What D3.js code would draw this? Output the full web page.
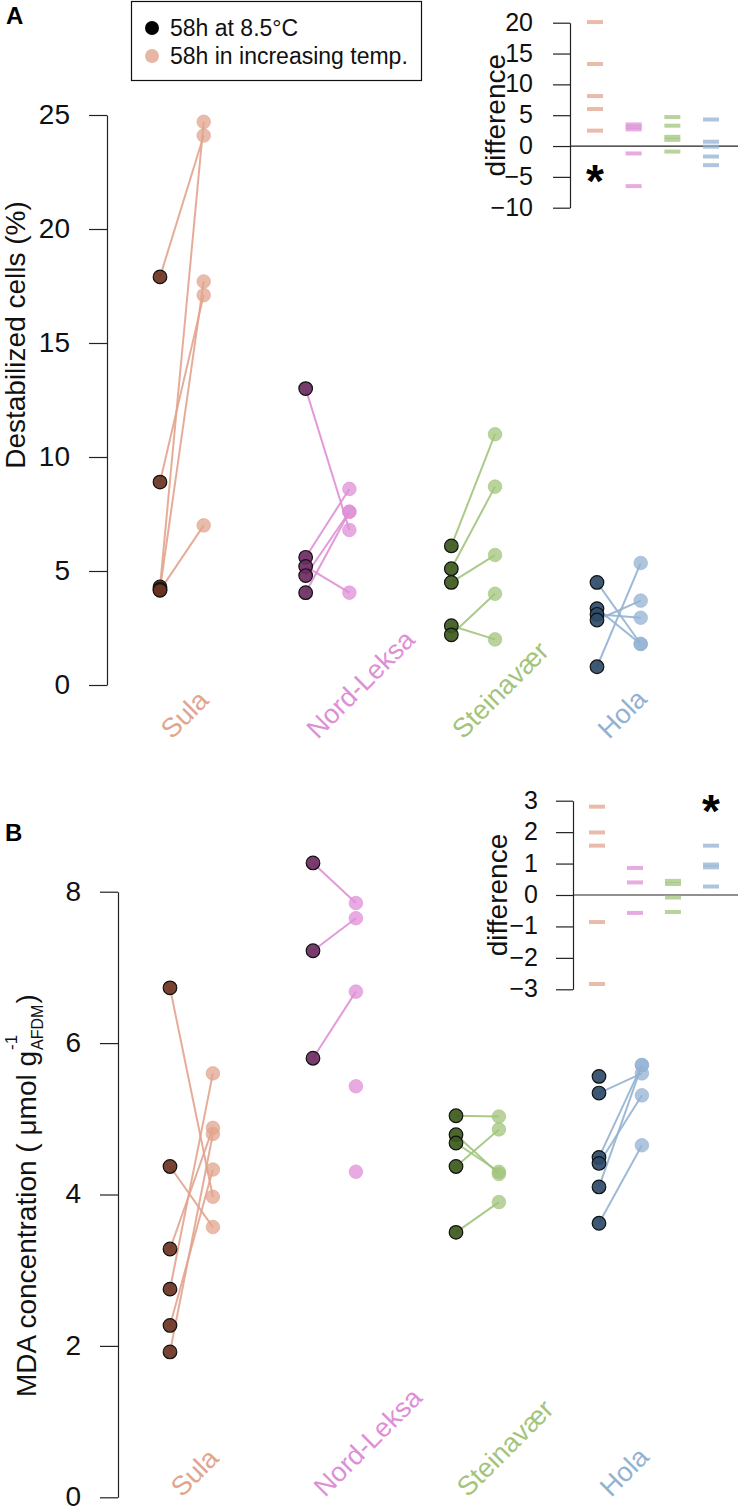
<!DOCTYPE html>
<html>
<head>
<meta charset="utf-8">
<script src="https://cdn.jsdelivr.net/npm/d3@7"></script>
<style>
	html, body { margin: 0; padding: 0; background: #fff; }
	svg text { font-family: 'Liberation Sans', Arial, sans-serif; }
</style>
</head>
<body>
<div id="chart"></div>
<script>
// sites, in plotting order
const SITES = ['Sula', 'Nord-Leksa', 'Steinavær', 'Hola'];
const LEGEND_LABELS = ['58h at 8.5°C', '58h in increasing temp.'];

// A: destabilized cells (%), paired control / warming values per site (null = no partner)
const CELLS_CONTROL = [
	[4.3, 4.2, 17.9, 8.9, 4.15],
	[13.0, 5.6, 5.2, 4.8, 4.05],
	[6.1, 5.1, 4.5, 2.6, 2.2],
	[0.8, 4.5, 3.35, 3.1, 2.85],
];
const CELLS_WARM = [
	[24.7, 17.7, 24.1, 17.1, 7.0],
	[6.8, 8.6, 4.05, 7.6, 7.6],
	[11.0, 8.7, 5.7, 2.0, 4.0],
	[5.35, 1.8, 1.8, 2.95, 3.7],
];
// A inset: difference per pair
const CELLS_DIFF = [
	[20.1, 13.3, 8.1, 6.0, 2.5],
	[3.5, 3.1, 2.7, -1.2, -6.5],
	[4.7, 3.3, 1.5, 1.0, -0.9],
	[4.3, 0.7, -0.1, -1.7, -3.1],
];

// B: MDA concentration
const MDA_CONTROL = [
	[6.73, 4.37, 3.28, 2.75, 2.27, 1.92],
	[8.38, 7.22, 5.8, null, null],
	[5.04, 4.79, 4.68, 4.37, 3.5],
	[5.56, 5.34, 4.49, 4.41, 4.1, 3.62],
];
const MDA_WARM = [
	[3.97, 3.57, 4.88, 5.6, 4.33, 4.8],
	[7.85, 7.65, 6.68, 5.43, 4.3],
	[5.03, 4.27, 4.3, 4.86, 3.9],
	[null, 5.6, 5.71, 5.31, 5.71, 4.65],
];
const MDA_DIFF = [
	[2.81, 1.99, 1.57, -0.86, -2.83],
	[0.86, 0.4, -0.57],
	[0.45, 0.35, -0.08, -0.54],
	[1.57, 0.97, 0.88, 0.27],
];

const CELLS_TICKS = [0, 5, 10, 15, 20, 25];
const MDA_TICKS = [0, 2, 4, 6, 8];
const CELLS_DIFF_TICKS = [-10, -5, 0, 5, 10, 15, 20];
const MDA_DIFF_TICKS = [-3, -2, -1, 0, 1, 2, 3];

const SIGNIFICANT_CELLS = ['Sula'];
const SIGNIFICANT_MDA = ['Hola'];

const LIGHT = ['#e2a48e', '#df8fd7', '#a2c47c', '#93b2d2'];
const DARK = ['#6b3322', '#6c2b63', '#3d5a1c', '#2e4b68'];

const svg = d3.select('#chart').append('svg')
	.attr('width', 739)
	.attr('height', 1511);

/** Helper. Draws a left axis and restyles it (d3 sets its own font size during the call). */
function leftAxis(scale, ticks, at, tickSize, tickPad, fontSize) {
	const axis = svg.append('g')
		.attr('transform', `translate(${at},0)`)
		.call(d3.axisLeft(scale)
			.tickValues(ticks)
			.tickFormat(d3.format('d'))
			.tickSize(tickSize)
			.tickPadding(tickPad)
			.tickSizeOuter(0));
	axis.attr('font-size', fontSize)
		.attr('font-family', 'Liberation Sans, Arial, sans-serif')
		.attr('color', '#222');
	axis.selectAll('text').attr('fill', '#111').attr('dy', '0.3em');
	axis.select('.domain').attr('stroke-width', 1.2);
	axis.selectAll('.tick line').attr('stroke-width', 1.2);
	return axis;
}

/** Draws one paired-dot panel with its axis, site labels and the difference inset. */
function drawPanel(p) {
	const x = d3.scaleLinear().domain([0, 3]).range(p.xRange);
	const y = d3.scaleLinear().domain(p.yDomain).range(p.yRange);

	leftAxis(y, p.ticks, p.axisX, 18, p.tickPad, 28);

	const marks = svg.append('g');
	SITES.forEach((site, i) => {
		const pairs = d3.zip(p.control[i], p.warm[i]);
		const x0 = x(i), x1 = x(i + 0.3);

		marks.append('g').selectAll('line')
			.data(pairs.filter(d => d[0] != null && d[1] != null))
			.join('line')
			.attr('x1', x0).attr('y1', d => y(d[0]))
			.attr('x2', x1).attr('y2', d => y(d[1]))
			.attr('stroke', LIGHT[i])
			.attr('stroke-width', 2)
			.attr('stroke-opacity', 0.9);

		marks.append('g').selectAll('circle')
			.data(p.warm[i].filter(v => v != null))
			.join('circle')
			.attr('cx', x1).attr('cy', d => y(d))
			.attr('r', 6.8)
			.attr('fill', LIGHT[i])
			.attr('fill-opacity', 0.75)
			.attr('stroke', LIGHT[i])
			.attr('stroke-opacity', 0.6);

		marks.append('g').selectAll('circle')
			.data(p.control[i].filter(v => v != null))
			.join('circle')
			.attr('cx', x0).attr('cy', d => y(d))
			.attr('r', 6.8)
			.attr('fill', DARK[i])
			.attr('fill-opacity', 0.92)
			.attr('stroke', '#111')
			.attr('stroke-width', 1.2);

		svg.append('text')
			.attr('transform', `translate(${x0 + 12},${p.labelY}) rotate(-45)`)
			.attr('font-size', 27)
			.attr('fill', LIGHT[i])
			.text(site);
	});

	// axis title
	p.drawTitle();

	// inset with per-pair differences
	const xi = d3.scaleLinear().domain([0, 3]).range(p.inset.xRange);
	const yi = d3.scaleLinear().domain(p.inset.domain).range(p.inset.range);

	leftAxis(yi, p.inset.ticks, p.inset.axisX, 17, p.inset.tickPad, 25);

	svg.append('line')
		.attr('x1', p.inset.axisX).attr('x2', 738)
		.attr('y1', yi(0)).attr('y2', yi(0))
		.attr('stroke', '#222')
		.attr('stroke-width', 1.2);

	svg.append('text')
		.attr('transform', `translate(${p.inset.titleX},${yi((p.inset.domain[0] + p.inset.domain[1]) / 2)}) rotate(-90)`)
		.attr('text-anchor', 'middle')
		.attr('font-size', 28)
		.attr('fill', '#111')
		.text('difference');

	SITES.forEach((site, i) => {
		svg.append('g').selectAll('rect')
			.data(p.diff[i])
			.join('rect')
			.attr('x', xi(i) - 8)
			.attr('y', d => yi(d) - 2)
			.attr('width', 16)
			.attr('height', 4)
			.attr('fill', LIGHT[i])
			.attr('fill-opacity', 0.75);

		if (p.significant.includes(site)) {
			svg.append('text')
				.attr('x', xi(i))
				.attr('y', yi(p.inset.starAt) + 24)
				.attr('text-anchor', 'middle')
				.attr('font-size', 46)
				.attr('font-weight', 'bold')
				.attr('fill', '#000')
				.text('*');
		}
	});

	svg.append('text')
		.attr('x', p.letter[0]).attr('y', p.letter[1])
		.attr('font-size', 24)
		.attr('font-weight', 'bold')
		.attr('fill', '#000')
		.text(p.letterText);
}

drawPanel({
	letterText: 'A',
	letter: [6, 24],
	control: CELLS_CONTROL,
	warm: CELLS_WARM,
	diff: CELLS_DIFF,
	significant: SIGNIFICANT_CELLS,
	ticks: CELLS_TICKS,
	yDomain: [0, 25],
	yRange: [685, 115],
	xRange: [160, 597],
	axisX: 107,
	tickPad: 19,
	labelY: 740,
	drawTitle: () => {
		svg.append('text')
			.attr('transform', 'translate(25,335) rotate(-90)')
			.attr('text-anchor', 'middle')
			.attr('font-size', 28)
			.attr('fill', '#111')
			.text('Destabilized cells (%)');
	},
	inset: {
		domain: [-10, 20],
		range: [207.7, 22.7],
		ticks: CELLS_DIFF_TICKS,
		xRange: [595, 711],
		axisX: 570,
		tickPad: 20,
		titleX: 505,
		starAt: -4.4,
	},
});

drawPanel({
	letterText: 'B',
	letter: [5, 841],
	control: MDA_CONTROL,
	warm: MDA_WARM,
	diff: MDA_DIFF,
	significant: SIGNIFICANT_MDA,
	ticks: MDA_TICKS,
	yDomain: [0, 8],
	yRange: [1497.3, 891.7],
	xRange: [170, 599],
	axisX: 118,
	tickPad: 19,
	labelY: 1498,
	drawTitle: () => {
		const g = svg.append('g')
			.attr('transform', 'translate(36,1397) rotate(-90)')
			.attr('fill', '#111');
		const main = g.append('text')
			.attr('font-size', 28)
			.text('MDA concentration ( μmol  g');
		const w = main.node().getComputedTextLength();
		const sup = g.append('text')
			.attr('x', w + 1).attr('y', -19)
			.attr('font-size', 17)
			.text('-1');
		const sub = g.append('text')
			.attr('x', w + 1).attr('y', 7)
			.attr('font-size', 16)
			.text('AFDM');
		const w2 = Math.max(sup.node().getComputedTextLength(), sub.node().getComputedTextLength());
		g.append('text')
			.attr('x', w + w2 + 2)
			.attr('font-size', 28)
			.text(' )');
	},
	inset: {
		domain: [-3, 3],
		range: [989.3, 800.7],
		ticks: MDA_DIFF_TICKS,
		xRange: [597, 711],
		axisX: 573,
		tickPad: 18,
		titleX: 507,
		starAt: 2.92,
	},
});

// legend
const legend = svg.append('g');
legend.append('rect')
	.attr('x', 131.5).attr('y', 1.5)
	.attr('width', 290).attr('height', 79)
	.attr('fill', 'none')
	.attr('stroke', '#111')
	.attr('stroke-width', 1.2);
legend.selectAll('circle')
	.data(LEGEND_LABELS)
	.join('circle')
	.attr('cx', 152)
	.attr('cy', (d, i) => 28 + i * 28)
	.attr('r', 7)
	.attr('fill', (d, i) => i === 0 ? '#000' : LIGHT[0])
	.attr('fill-opacity', (d, i) => i === 0 ? 1 : 0.8);
legend.selectAll('text')
	.data(LEGEND_LABELS)
	.join('text')
	.attr('x', 170)
	.attr('y', (d, i) => 36 + i * 28)
	.attr('font-size', 23)
	.attr('fill', '#111')
	.text(d => d);
</script>
</body>
</html>
